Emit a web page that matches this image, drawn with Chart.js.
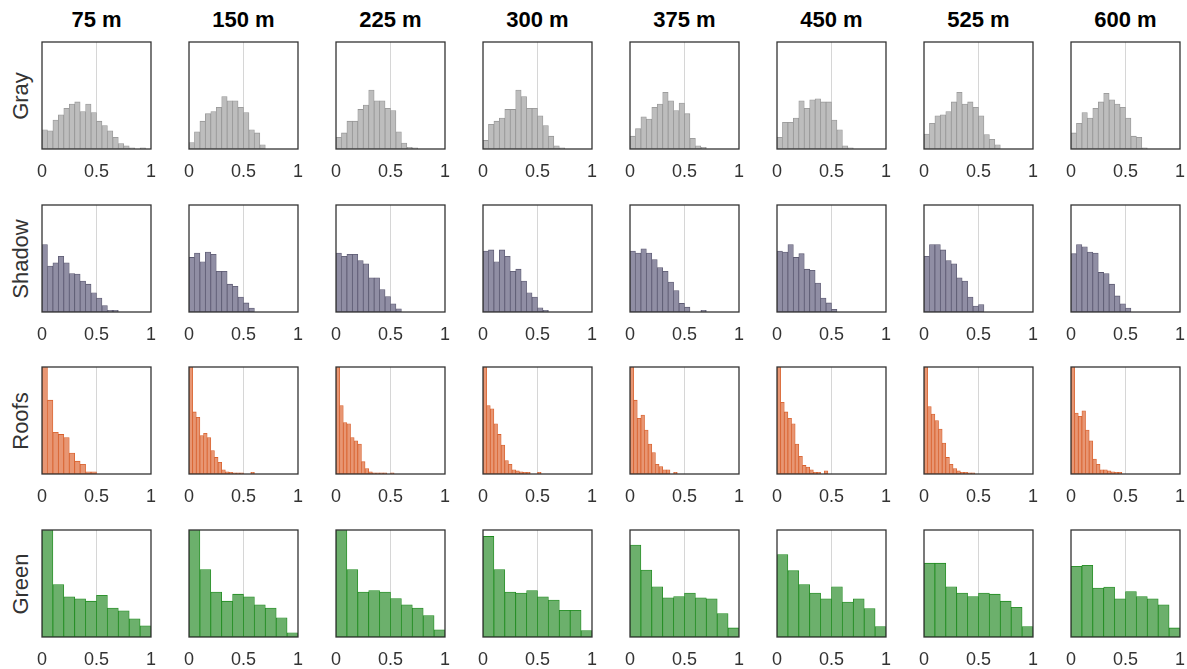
<!DOCTYPE html>
<html>
<head>
<meta charset="utf-8">
<script src="https://cdn.jsdelivr.net/npm/chart.js@4.4.1/dist/chart.umd.min.js"></script>
<style>
  body { margin: 0; background: #fff; width: 1187px; height: 669px; position: relative; overflow: hidden;
         font-family: 'Liberation Sans', Arial, sans-serif; }
  .cell { position: absolute; }
  .colTitle { position: absolute; width: 140px; text-align: center; font-weight: bold; font-size: 22px;
              line-height: 26px; color: #000; }
  .rowTitle { position: absolute; width: 120px; text-align: center; font-size: 22px; line-height: 26px;
              color: #333; transform: rotate(-90deg); }
</style>
</head>
<body>
<script>
// Titulos
const distances = ['75 m', '150 m', '225 m', '300 m', '375 m', '450 m', '525 m', '600 m'];
const classes = ['Gray', 'Shadow', 'Roofs', 'Green'];
const xTicks = [0, 0.5, 1];
const xTickLabels = ['0', '0.5', '1'];

// Anchos de clase de cada histograma
const grayBinWidth = 0.05;
const shadowBinWidth = 0.05;
const roofsBinWidths = [0.05, 1 / 30, 1 / 30, 1 / 30, 1 / 30, 1 / 30, 1 / 30, 1 / 30];
const greenBinWidth = 0.1;

// Alturas de las barras (fraccion del alto del panel), una fila por distancia
const grayHist = [
  [0.18, 0.17, 0.27, 0.32, 0.38, 0.42, 0.44, 0.35, 0.42, 0.34, 0.26, 0.22, 0.17, 0.11, 0.05, 0.03, 0.01, 0, 0.01, 0],
  [0.06, 0.16, 0.26, 0.33, 0.35, 0.39, 0.49, 0.45, 0.45, 0.39, 0.34, 0.18, 0.15, 0.04, 0],
  [0.11, 0.15, 0.26, 0.26, 0.37, 0.41, 0.55, 0.45, 0.45, 0.38, 0.36, 0.16, 0.055, 0.015, 0.01],
  [0.08, 0.23, 0.26, 0.29, 0.37, 0.37, 0.55, 0.49, 0.38, 0.38, 0.31, 0.22, 0.12, 0.03, 0.01],
  [0.12, 0.19, 0.30, 0.28, 0.39, 0.42, 0.53, 0.45, 0.36, 0.43, 0.33, 0.10, 0.03, 0.015],
  [0.11, 0.25, 0.25, 0.29, 0.45, 0.38, 0.46, 0.47, 0.44, 0.44, 0.27, 0.18, 0.03, 0.012],
  [0.14, 0.24, 0.31, 0.32, 0.35, 0.44, 0.53, 0.42, 0.44, 0.39, 0.31, 0.135, 0.09, 0.04],
  [0.15, 0.24, 0.34, 0.29, 0.38, 0.44, 0.52, 0.46, 0.42, 0.39, 0.29, 0.12, 0.11, 0.01]
];
const shadowHist = [
  [0.63, 0.43, 0.46, 0.52, 0.46, 0.36, 0.355, 0.29, 0.26, 0.18, 0.13, 0.06, 0.015, 0.015],
  [0.51, 0.55, 0.47, 0.56, 0.54, 0.38, 0.38, 0.26, 0.24, 0.14, 0.085, 0.036],
  [0.55, 0.52, 0.54, 0.54, 0.48, 0.45, 0.32, 0.32, 0.21, 0.145, 0.076, 0.03],
  [0.57, 0.58, 0.47, 0.58, 0.52, 0.38, 0.40, 0.29, 0.18, 0.14, 0.04, 0.015],
  [0.57, 0.55, 0.59, 0.55, 0.49, 0.415, 0.38, 0.28, 0.20, 0.08, 0.045, 0, 0, 0.015],
  [0.57, 0.56, 0.63, 0.51, 0.545, 0.40, 0.39, 0.27, 0.13, 0.085, 0.025],
  [0.52, 0.63, 0.63, 0.58, 0.48, 0.45, 0.32, 0.29, 0.14, 0.055, 0.07],
  [0.545, 0.63, 0.61, 0.56, 0.55, 0.37, 0.36, 0.26, 0.15, 0.076, 0.036]
];
const roofsHist = [
  [1.3, 0.69, 0.39, 0.37, 0.34, 0.195, 0.12, 0.09, 0.02, 0.02],
  [1.3, 0.58, 0.53, 0.36, 0.38, 0.34, 0.22, 0.155, 0.11, 0.04, 0.02, 0.015, 0.01, 0.01, 0.01, 0, 0, 0.015],
  [1.3, 0.64, 0.48, 0.47, 0.34, 0.31, 0.28, 0.115, 0.05, 0.02, 0.01, 0.01, 0.01, 0.01, 0, 0.01],
  [1.3, 0.64, 0.61, 0.47, 0.37, 0.27, 0.125, 0.09, 0.04, 0.03, 0.02, 0.015, 0.015, 0, 0, 0.015],
  [1.3, 0.69, 0.52, 0.55, 0.41, 0.28, 0.2, 0.09, 0.07, 0.04, 0.04, 0, 0.015],
  [1.3, 0.67, 0.58, 0.52, 0.47, 0.28, 0.165, 0.08, 0.065, 0.04, 0.015, 0.015, 0, 0.03],
  [1.3, 0.63, 0.56, 0.5, 0.42, 0.29, 0.155, 0.09, 0.05, 0.03, 0.015, 0.015, 0.01, 0.01],
  [1.3, 0.57, 0.54, 0.59, 0.41, 0.31, 0.14, 0.09, 0.04, 0.04, 0.03, 0.02, 0.015, 0.015]
];
const greenHist = [
  [1.2, 0.49, 0.375, 0.357, 0.335, 0.39, 0.27, 0.245, 0.17, 0.105],
  [1.2, 0.63, 0.42, 0.335, 0.40, 0.375, 0.30, 0.27, 0.18, 0.04],
  [1.1, 0.63, 0.42, 0.435, 0.42, 0.36, 0.30, 0.27, 0.20, 0.067],
  [0.94, 0.63, 0.42, 0.41, 0.435, 0.375, 0.345, 0.25, 0.25, 0.06],
  [0.86, 0.625, 0.47, 0.366, 0.378, 0.41, 0.366, 0.357, 0.22, 0.085],
  [0.77, 0.62, 0.49, 0.41, 0.357, 0.47, 0.326, 0.357, 0.265, 0.098],
  [0.69, 0.69, 0.47, 0.41, 0.378, 0.41, 0.40, 0.335, 0.277, 0.098],
  [0.66, 0.67, 0.457, 0.466, 0.357, 0.424, 0.378, 0.357, 0.30, 0.085]
];

const rows = [
  { hist: grayHist, width: () => grayBinWidth, fill: '#bdbdbd', edge: '#969696' },
  { hist: shadowHist, width: () => shadowBinWidth, fill: '#908ea4', edge: '#5c5a72' },
  { hist: roofsHist, width: c => roofsBinWidths[c], fill: '#e89673', edge: '#d8602c' },
  { hist: greenHist, width: () => greenBinWidth, fill: '#6cb06c', edge: '#1d8a1d' }
];

// Geometria
const boxW = 111, boxH = 107;
const padL = 16, padR = 16, padT = 4, axisH = 38;
const colLeft = c => 41 + c * 147;
const rowTop = r => 42 + Math.round(r * 162.7);
const fontFam = "'Liberation Sans', Arial, sans-serif";

const boxPlugin = {
  id: 'box',
  afterDraw(chart) {
    const a = chart.chartArea, ctx = chart.ctx;
    ctx.save();
    ctx.strokeStyle = '#333';
    ctx.lineWidth = 1.3;
    ctx.strokeRect(a.left, a.top, a.right - a.left, a.bottom - a.top);
    ctx.restore();
  }
};

distances.forEach((d, c) => {
  const t = document.createElement('div');
  t.className = 'colTitle';
  t.textContent = d;
  t.style.left = (colLeft(c) + boxW / 2 - 70) + 'px';
  t.style.top = '7px';
  document.body.appendChild(t);
});

classes.forEach((name, r) => {
  const t = document.createElement('div');
  t.className = 'rowTitle';
  t.textContent = name;
  t.style.left = (21 - 60) + 'px';
  t.style.top = (rowTop(r) + boxH / 2 - 13) + 'px';
  document.body.appendChild(t);
});

rows.forEach((row, r) => {
  distances.forEach((d, c) => {
    const w = row.width(c);
    const vals = row.hist[c];
    const n = Math.round(1 / w);
    const pts = [];
    for (let k = 0; k < n; k++) pts.push({ x: (k + 0.5) * w, y: k < vals.length ? vals[k] : 0 });

    const div = document.createElement('div');
    div.className = 'cell';
    div.style.left = (colLeft(c) - padL) + 'px';
    div.style.top = (rowTop(r) - padT) + 'px';
    const cv = document.createElement('canvas');
    cv.width = boxW + padL + padR;
    cv.height = boxH + padT + axisH;
    div.appendChild(cv);
    document.body.appendChild(div);

    new Chart(cv, {
      type: 'bar',
      data: { datasets: [{ data: pts, backgroundColor: row.fill, borderColor: row.edge, borderWidth: 0.8,
                           borderSkipped: false, barPercentage: 1, categoryPercentage: 1 }] },
      options: {
        responsive: false, animation: false, events: [],
        layout: { padding: { left: padL, right: padR, top: padT, bottom: 0 } },
        plugins: { legend: { display: false }, tooltip: { enabled: false } },
        scales: {
          x: {
            type: 'linear', min: 0, max: 1, offset: false,
            afterBuildTicks: s => { s.ticks = xTicks.map(v => ({ value: v })); },
            afterFit: s => { s.height = axisH; },
            grid: { offset: false, drawTicks: false, lineWidth: 1,
                    color: ctx => (ctx.tick && ctx.tick.value === 0.5) ? '#d6d6d6' : 'rgba(0,0,0,0)' },
            border: { display: false },
            ticks: { autoSkip: false, maxRotation: 0, padding: 12, color: '#333',
                     callback: (v, i) => xTickLabels[i],
                     font: { family: fontFam, size: 18 } }
          },
          y: { display: false, min: 0, max: 1 }
        }
      },
      plugins: [boxPlugin]
    });
  });
});
</script>
</body>
</html>
